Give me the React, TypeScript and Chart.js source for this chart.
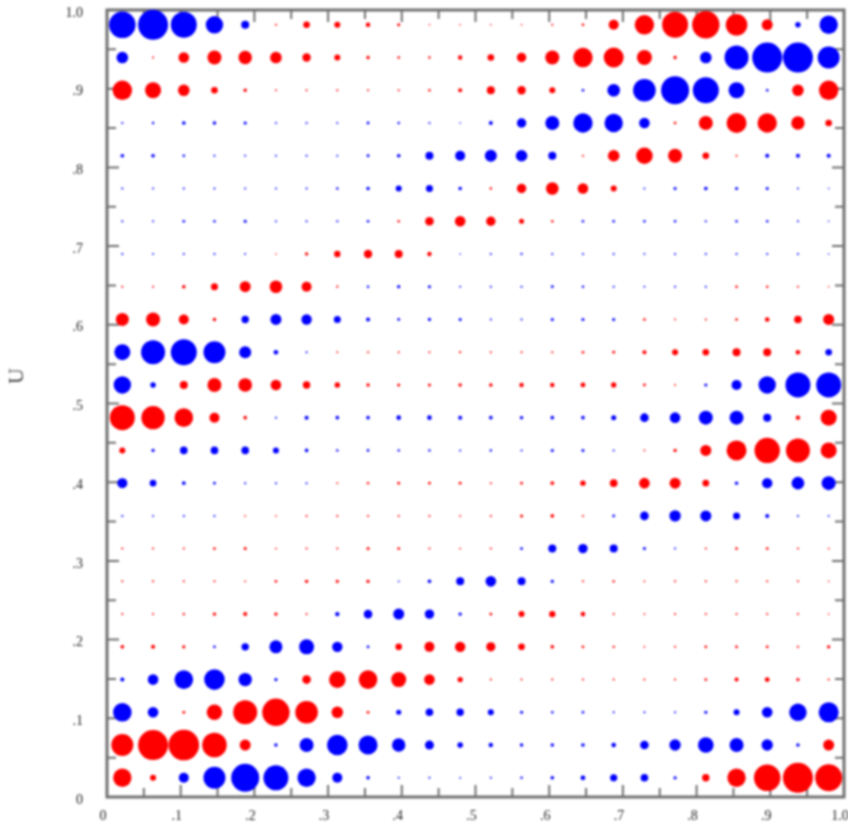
import { useEffect, useRef } from "react";
import { Chart, registerables } from "chart.js";

Chart.register(...registerables);

const xCenters = [.0208,.0625,.1042,.1458,.1875,.2292,.2708,.3125,.3542,.3958,.4375,.4792,.5208,.5625,.6042,.6458,.6875,.7292,.7708,.8125,.8542,.8958,.9375,.9792];
const yCenters = [.9812,.9396,.898,.8564,.8148,.7732,.7316,.69,.6484,.6068,.5652,.5236,.482,.4404,.3988,.3572,.3156,.274,.2324,.1908,.1492,.1076,.066,.0244];

const row00 = [-13.3,-15,-13,-8.7,-4,1,3.3,3,2.3,1.5,.8,.8,.8,.8,1,1.3,5,9.7,13,13.7,10.8,5.5,-2.7,-9.2];
const row01 = [-5.8,1,5.3,7,6.7,5.8,4.2,3,1.7,1.3,1.2,2.2,3.3,4.7,7,9.7,10,7.5,1.7,-5.8,-12,-15,-15,-11];
const row02 = [9.7,8,5.8,3.3,1.7,.9,1,1,1,1,1.2,2,4,4.2,3,-1.3,-6.3,-11.3,-14,-13,-8,-1.3,5.8,9.7];
const row03 = [-1,-1.2,-1.8,-1.7,-1.6,-.9,-1,-.9,-1.4,-1.2,-1,-.8,-2,-4.7,-7,-9.7,-9.2,-5.3,1.3,7,10,9.7,6.7,3.3];
const row04 = [-1.8,-1.8,-1.3,-1,-.9,-.9,-1,-.9,-1.4,-1.8,-4,-5,-6,-5.8,-4,1,5.8,8.3,7,3.3,1,-2,-2,-2];
const row05 = [-1,-.9,-1,-1,-.9,-.9,-1,-1.2,-1.7,-3,-3.5,-1.8,1.2,4.7,6.3,5.3,3,-.9,-1.5,-1.8,-1.5,-1.5,-.9,-.8];
const row06 = [-1,-.9,-1.3,-1.2,-1.5,-.9,-1,-1.1,-1.3,1.2,4.3,5.3,4.7,2.5,1.2,-1.2,-1.3,-1.2,-1.2,-1.1,-1.2,-1.2,-1,-.8];
const row07 = [-1,-.9,-1,-1,-.9,.8,1.6,3.2,4.2,4,2.2,-.8,-1,-1.1,-1,-1,-1,-.9,-1,-1,-1,-1,-1,-.8];
const row08 = [1,1,1.8,3.5,5.5,6.3,5,1.1,-1.2,-1.6,-1.5,-.9,-1,-1,-1.4,-1.2,-1,-.9,-1,-1,1.3,1.2,1,.8];
const row09 = [6.5,7,5,1.7,-3.7,-5.5,-5.2,-3.5,-2,-1.4,-1.6,-1.5,-1,-1,-1.5,-1.5,-1.5,1.3,.9,1,1.3,2.3,3.8,5.5];
const row10 = [-8,-12,-13,-11,-6,-2.3,-1,.9,1,1,1,1.1,1,1,1,1.3,1.4,2,3,3.3,4,4,2.3,-3.3];
const row11 = [-8.7,-2.7,4,7,6.8,5.3,3.7,2.7,1.7,1.5,1.5,1.7,1.8,2.2,2.2,2.4,2.6,1.4,.9,-1.5,-5,-8.7,-12.5,-12.5];
const row12 = [12.5,11.7,9.3,5,1.8,-1,-2,-1.8,-1.8,-2.3,-2.3,-2,-1.8,-1.7,-1.8,-1.8,-2.5,-4.3,-5.3,-7,-7,-4,2.2,8];
const row13 = [3,-1.6,-3.8,-3.8,-3.8,-3,-1.8,-1.2,-1.3,-1.2,-1.2,-1,-1.2,-1,-1.5,-1.5,-1,.9,1.7,5.5,10,12.7,12,8];
const row14 = [-5,-3.3,-1.8,-1.3,-1,-1,-1,.9,1.2,1.4,1.3,1.4,1,1.3,1.8,2.7,3.8,5.3,5.5,3.3,-1.7,-5.2,-6.3,-7];
const row15 = [-1,-.9,-1,-1,.8,.8,1,1,1,1,1,.9,1,1.5,1.8,1,-1.3,-4.3,-5.7,-5.5,-3.5,-2,-1,-.9];
const row16 = [1,1,1,1.3,1.5,.9,1,1,1.5,1.4,1,.9,1,-1.4,-4,-4.7,-4,-1.5,-1,1,1.3,1.3,1,.9];
const row17 = [1,1,1,1,.9,1.3,1.7,1.6,1.7,-.9,-1.8,-4,-5.3,-4,-1.6,1,1.2,.9,1,1,1,1,1,.8];
const row18 = [1,1,1.2,1.7,2,1.7,1,-2.2,-4.3,-5.5,-4.7,-1.7,1.4,3,3.2,2.3,1,.9,1,1,1,1,1,.8];
const row19 = [1.8,2,1.6,-1.3,-3.7,-6.5,-7.5,-5.2,-1.4,3.3,5,5.2,4.6,3.3,1.8,1.3,1.2,.9,1,1.3,1.4,1.4,1.1,1.7];
const row20 = [-2,-5.3,-9.3,-10.3,-6.7,-1.6,4.3,8.3,9.3,7.5,5.3,2.7,1,1,1,1,1,1,1,1.3,2,2.4,1.6,1];
const row21 = [-9.3,-5.3,1.4,7.7,12,13.7,11.3,5.8,1.4,-2.5,-3.8,-3.7,-3,-1.5,-1.2,-1.3,-1,-1,-1,-1.5,-3,-5.3,-8.7,-10];
const row22 = [11,15,15.3,12.3,5.5,-1.7,-7,-10.3,-9.5,-6.7,-4.5,-2.8,-2.2,-1.7,-1.7,-1.8,-2.3,-4.3,-5.7,-7.8,-7,-5.7,-1.7,5.5];
const row23 = [9.2,3,-5,-11,-14,-12.5,-9.2,-5,-1.8,-1,-1,-.9,-1,-1.2,-1.8,-2.4,-3.6,-3.8,-1.6,3.7,9.2,13.3,15,13.5];

const rows = [row00,row01,row02,row03,row04,row05,row06,row07,row08,row09,row10,row11,row12,row13,row14,row15,row16,row17,row18,row19,row20,row21,row22,row23];

const majorTicks = [0,.1,.2,.3,.4,.5,.6,.7,.8,.9,1];
const tickLabels = ["0",".1",".2",".3",".4",".5",".6",".7",".8",".9","1.0"];
const minorTicks = [.05,.15,.25,.35,.45,.55,.65,.75,.85,.95];
const yTitle = "U";

const RADIUS_SCALE = 1;
const RED = "#ff0000";
const BLUE = "#0000ff";
const AXIS = "#707070";
const TEXT = "#222222";
const FONT = "Liberation Serif";

function points(positive: boolean) {
  const out: { x: number; y: number; r: number }[] = [];
  rows.forEach((row, j) =>
    row.forEach((v, i) => {
      if (v > 0 === positive) out.push({ x: xCenters[i], y: yCenters[j], r: Math.abs(v) * RADIUS_SCALE });
    })
  );
  return out;
}

const framePlugin = {
  id: "frame",
  beforeDatasetsDraw(chart: any) {
    const { ctx, chartArea: a, scales } = chart;
    ctx.save();
    ctx.strokeStyle = AXIS;
    ctx.lineWidth = 2;
    const draw = (vals: number[], len: number) => {
      for (const v of vals) {
        const px = scales.x.getPixelForValue(v);
        const py = scales.y.getPixelForValue(v);
        ctx.beginPath();
        ctx.moveTo(px, a.bottom); ctx.lineTo(px, a.bottom - len);
        ctx.moveTo(px, a.top); ctx.lineTo(px, a.top + len);
        ctx.moveTo(a.left, py); ctx.lineTo(a.left + len, py);
        ctx.moveTo(a.right, py); ctx.lineTo(a.right - len, py);
        ctx.stroke();
      }
    };
    draw(majorTicks.slice(1, -1), 12);
    draw(minorTicks, 9);
    ctx.lineWidth = 3;
    ctx.strokeRect(a.left, a.top, a.right - a.left, a.bottom - a.top);
    ctx.fillStyle = "#444444";
    ctx.font = `22px "${FONT}"`;
    ctx.textAlign = "center";
    ctx.textBaseline = "middle";
    ctx.translate(17, 376);
    ctx.rotate(-Math.PI / 2);
    ctx.fillText(yTitle, 0, 0);
    ctx.restore();
  },
};

function fixX(scale: any) {
  scale.height = 30;
  scale.paddingLeft = scale.paddingRight = 0;
}
function fixY(scale: any) {
  scale.width = 107;
  scale.paddingTop = scale.paddingBottom = 0;
}
const labelAt = (value: number) => {
  const i = majorTicks.findIndex((t) => Math.abs(t - value) < 1e-6);
  return i >= 0 ? tickLabels[i] : "";
};

export default function App() {
  const ref = useRef<HTMLCanvasElement>(null);
  useEffect(() => {
    const chart = new Chart(ref.current!, {
      type: "bubble",
      data: {
        datasets: [
          { label: "positive", data: points(true), backgroundColor: RED, borderWidth: 0, radius: 0, hoverRadius: 0, clip: false },
          { label: "negative", data: points(false), backgroundColor: BLUE, borderWidth: 0, radius: 0, hoverRadius: 0, clip: false },
        ] as any,
      },
      options: {
        animation: false,
        responsive: false,
        layout: { autoPadding: false, padding: { top: 10, right: 4, left: 0, bottom: 0 } },
        plugins: { legend: { display: false }, tooltip: { enabled: false } },
        events: [],
        scales: {
          x: {
            type: "linear", min: 0, max: 1,
            grid: { display: false, drawTicks: false }, border: { display: false },
            afterFit: fixX,
            afterBuildTicks: (s: any) => { s.ticks = majorTicks.map((value) => ({ value })); },
            ticks: { autoSkip: false, maxRotation: 0, padding: 11, labelOffset: -4, color: TEXT, font: { family: FONT, size: 14 }, callback: (v: any) => labelAt(+v) },
          },
          y: {
            type: "linear", min: 0, max: 1,
            grid: { display: false, drawTicks: false }, border: { display: false },
            afterFit: fixY,
            afterBuildTicks: (s: any) => { s.ticks = majorTicks.map((value) => ({ value })); },
            ticks: { autoSkip: false, padding: 24, labelOffset: 3, color: TEXT, font: { family: FONT, size: 14 }, callback: (v: any) => labelAt(+v) },
          },
        },
      },
      plugins: [framePlugin],
    } as any);
    return () => chart.destroy();
  }, []);
  return (
    <div style={{ position: "absolute", left: 0, top: 0, width: 848, height: 827, background: "#fff" }}>
      <canvas ref={ref} width={848} height={827} style={{ display: "block", width: 848, height: 827, filter: "blur(1px)" }} />
    </div>
  );
}
